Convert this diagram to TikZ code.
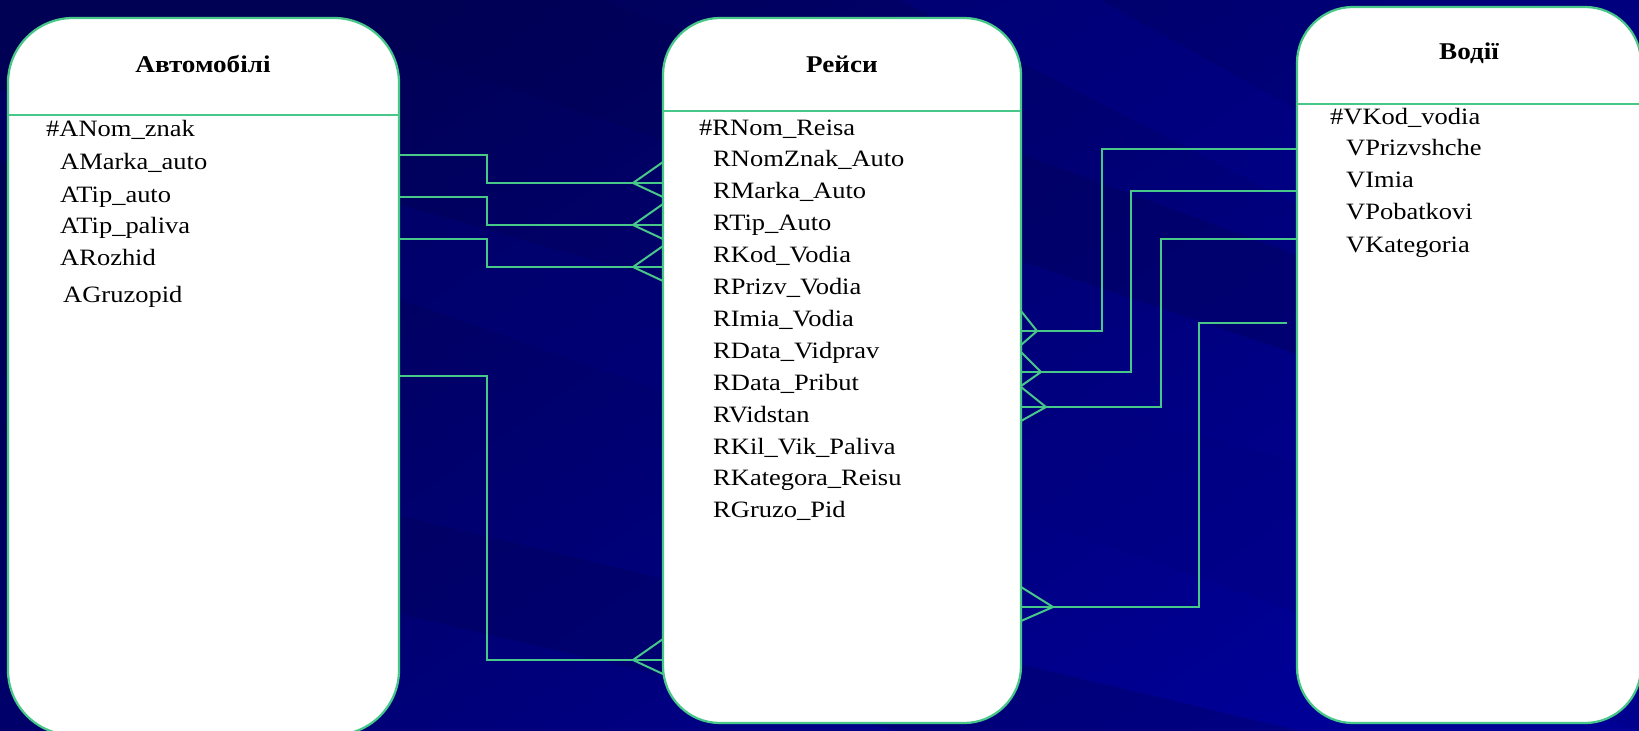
\documentclass[tikz,border=0pt]{standalone}
\usepackage{fontspec}
\setmainfont{Liberation Serif}[FakeStretch=1.13]
\definecolor{lineg}{RGB}{72,200,136}
\definecolor{bgA}{RGB}{0,0,84}
\definecolor{bgB}{RGB}{0,0,150}
\definecolor{bgM}{RGB}{0,0,128}
\begin{document}
\begin{tikzpicture}[x=0.03cm,y=-0.03cm,
  box/.style={draw=lineg, fill=white, line width=1.9pt, inner sep=0pt, outer sep=0pt},
  conn/.style={draw=lineg, line width=1.7pt},
  fld/.style={anchor=base west, inner sep=0pt, font=\fontsize{20}{24}\selectfont},
  ttl/.style={anchor=base, inner sep=0pt, font=\fontsize{20.5}{24}\selectfont\bfseries}]
\useasboundingbox (0,0) rectangle (1639,731);
% background
\shade[top color=bgA, bottom color=bgB, shading angle=35] (0,0) rectangle (1639,731);
\fill[bgM, opacity=0.35] (0,90) -- (0,160) -- (1639,731) -- (1639,560) -- cycle;
\fill[bgA, opacity=0.35] (250,0) -- (600,0) -- (1639,380) -- (1639,470) -- cycle;
\fill[bgB, opacity=0.30] (900,0) -- (1100,0) -- (1639,300) -- (1639,380) -- cycle;
\fill[bgA, opacity=0.30] (0,420) -- (0,520) -- (900,731) -- (1300,731) -- cycle;
\begin{scope}
\clip (0,0) rectangle (1639,731);
% boxes
\node[box, minimum width=11.73cm, minimum height=21.51cm, rounded corners=1.95cm] (avt) at (203.5,376.5) {};
\node[box, minimum width=10.74cm, minimum height=21.15cm, rounded corners=1.71cm] (reis) at (842,370.5) {};
\node[box, minimum width=10.32cm, minimum height=21.48cm, rounded corners=1.68cm] (vod) at (1469,365) {};
\end{scope}
% header dividers
\draw[conn, line width=1.9pt] (avt.west |- 0,115) -- (avt.east |- 0,115);
\draw[conn, line width=1.9pt] (reis.west |- 0,111) -- (reis.east |- 0,111);
\draw[conn, line width=1.9pt] (vod.west |- 0,104) -- (1639,104);
% titles
\node[ttl] (tA) at (203,73) {Автомобілі};
\node[ttl] (tR) at (842,72) {Рейси};
\node[ttl] (tV) at (1469,60) {Водії};
% fields Avtomobili
\node[fld] (a0) at (46,137) {\#ANom\_znak};
\node[fld] (a1) at (60,169) {AMarka\_auto};
\node[fld] (a2) at (60,202) {ATip\_auto};
\node[fld] (a3) at (60,233) {ATip\_paliva};
\node[fld] (a4) at (60,265) {ARozhid};
\node[fld] (a5) at (63,302) {AGruzopid};
% fields Reisy
\node[fld] (r0) at (699,135) {\#RNom\_Reisa};
\node[fld] (r1) at (713,166.9) {RNomZnak\_Auto};
\node[fld] (r2) at (713,198.8) {RMarka\_Auto};
\node[fld] (r3) at (713,230.7) {RTip\_Auto};
\node[fld] (r4) at (713,262.6) {RKod\_Vodia};
\node[fld] (r5) at (713,294.5) {RPrizv\_Vodia};
\node[fld] (r6) at (713,326.4) {RImia\_Vodia};
\node[fld] (r7) at (713,358.3) {RData\_Vidprav};
\node[fld] (r8) at (713,390.2) {RData\_Pribut};
\node[fld] (r9) at (713,422.1) {RVidstan};
\node[fld] (r10) at (713,454) {RKil\_Vik\_Paliva};
\node[fld] (r11) at (713,485.9) {RKategora\_Reisu};
\node[fld] (r12) at (713,517.8) {RGruzo\_Pid};
% fields Vodii
\node[fld] (v0) at (1330,124) {\#VKod\_vodia};
\node[fld] (v1) at (1346,156) {VPrizvshche};
\node[fld] (v2) at (1346,187) {VImia};
\node[fld] (v3) at (1346,219) {VPobatkovi};
\node[fld] (v4) at (1346,252) {VKategoria};
% connectors Avtomobili -> Reisy (crow's foot at Reisy)
\foreach \ya/\yb in {155/183, 197/225, 239/267, 376/660}{
  \draw[conn] (avt.east |- 0,\ya) -- (487,\ya) -- (487,\yb) -- (reis.west |- 0,\yb);
  \draw[conn] (reis.west |- 0,\yb-21) -- (633,\yb) -- (reis.west |- 0,\yb+14);
}
% connectors Vodii -> Reisy (crow's foot at Reisy)
\foreach \yv/\xm/\yr/\xa in {149/1102/331/1037, 191/1131/372/1041, 239/1161/407/1046}{
  \draw[conn] (vod.west |- 0,\yv) -- (\xm,\yv) -- (\xm,\yr) -- (reis.east |- 0,\yr);
  \draw[conn] (reis.east |- 0,\yr-20) -- (\xa,\yr) -- (reis.east |- 0,\yr+14);
}
\coordinate (free) at (1287,323);
\draw[conn] (free) -- (1199,323) -- (1199,607) -- (reis.east |- 0,607);
\draw[conn] (reis.east |- 0,587) -- (1053,607) -- (reis.east |- 0,621);
\end{tikzpicture}
\end{document}
